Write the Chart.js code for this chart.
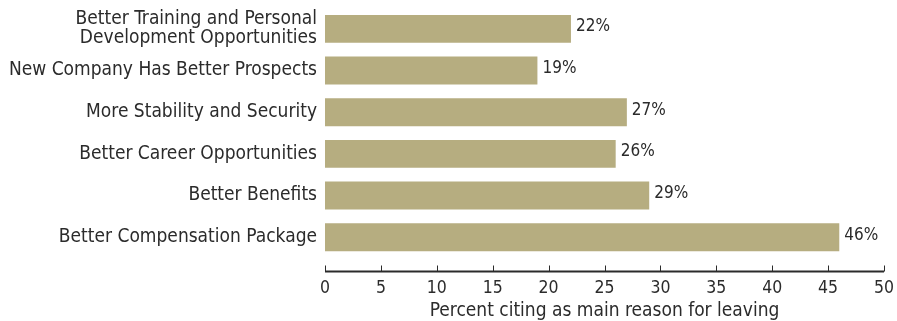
<!DOCTYPE html>
<html>
<head>
<meta charset="utf-8">
<script src="https://cdn.jsdelivr.net/npm/chart.js@4"></script>
<style>
  html, body { margin: 0; padding: 0; background: #fff; }
  #wrap { width: 897px; height: 321px; }
</style>
</head>
<body>
<div id="wrap"><canvas id="reasons"></canvas></div>
<script>
const reasons = [
    ["Better Training and Personal", "Development Opportunities"],
    "New Company Has Better Prospects",
    "More Stability and Security",
    "Better Career Opportunities",
    "Better Benefits",
    "Better Compensation Package"
];
const percentCiting = [22, 19, 27, 26, 29, 46];
const xTicks = [0, 5, 10, 15, 20, 25, 30, 35, 40, 45, 50];
const xTitle = "Percent citing as main reason for leaving";

const FONT = "'DejaVu Sans Condensed', 'Liberation Sans', sans-serif";
const INK = "#2b2b2b";

// value labels at the end of each bar
const valueLabels = {
    id: "valueLabels",
    afterDatasetsDraw(chart) {
        const ctx = chart.ctx;
        const meta = chart.getDatasetMeta(0);
        ctx.save();
        ctx.font = "17px " + FONT;
        ctx.fillStyle = INK;
        ctx.textBaseline = "middle";
        ctx.textAlign = "left";
        meta.data.forEach((bar, i) => {
            ctx.fillText(percentCiting[i] + "%", bar.x + 5, bar.y - 2);
        });
        ctx.restore();
    }
};

// axis line sits a little below the bars, tick marks point upward
const lowAxis = {
    id: "lowAxis",
    afterDraw(chart) {
        const ctx = chart.ctx;
        const x = chart.scales.x;
        const y = chart.chartArea.bottom + 13.5;
        ctx.save();
        ctx.strokeStyle = INK;
        ctx.lineWidth = 2;
        ctx.beginPath();
        ctx.moveTo(x.getPixelForValue(0), y);
        ctx.lineTo(x.getPixelForValue(50), y);
        ctx.stroke();
        ctx.lineWidth = 1;
        xTicks.forEach(v => {
            const px = Math.round(x.getPixelForValue(v)) + 0.5;
            ctx.beginPath();
            ctx.moveTo(px, y);
            ctx.lineTo(px, y - 6);
            ctx.stroke();
        });
        ctx.restore();
    }
};

new Chart(document.getElementById("reasons"), {
    type: "bar",
    data: {
        labels: reasons,
        datasets: [{
            data: percentCiting,
            backgroundColor: "#b6ad80",
            barPercentage: 0.67,
            categoryPercentage: 1
        }]
    },
    options: {
        indexAxis: "y",
        responsive: true,
        maintainAspectRatio: false,
        animation: false,
        layout: { padding: { top: 8, right: 13, bottom: 0, left: 0 } },
        plugins: {
            legend: { display: false },
            tooltip: { enabled: false }
        },
        scales: {
            x: {
                min: 0,
                max: 50,
                afterBuildTicks(scale) {
                    scale.ticks = xTicks.map(v => ({ value: v }));
                },
                afterFit(scale) {
                    scale.height = 63;
                    scale.paddingLeft = 0;
                    scale.paddingRight = 0;
                },
                grid: { display: false },
                border: { display: false },
                ticks: {
                    color: INK,
                    font: { family: FONT, size: 17.5 },
                    padding: 12,
                    maxRotation: 0
                },
                title: {
                    display: true,
                    text: xTitle,
                    color: INK,
                    font: { family: FONT, size: 19 },
                    padding: { top: 0, bottom: -1 }
                }
            },
            y: {
                afterFit(scale) {
                    scale.width = 325;
                    scale.paddingTop = 0;
                    scale.paddingBottom = 0;
                },
                grid: { display: false },
                border: { display: false },
                ticks: {
                    color: INK,
                    font: { family: FONT, size: 19, lineHeight: 1.0 },
                    padding: 0
                }
            }
        }
    },
    plugins: [valueLabels, lowAxis]
});
</script>
</body>
</html>
